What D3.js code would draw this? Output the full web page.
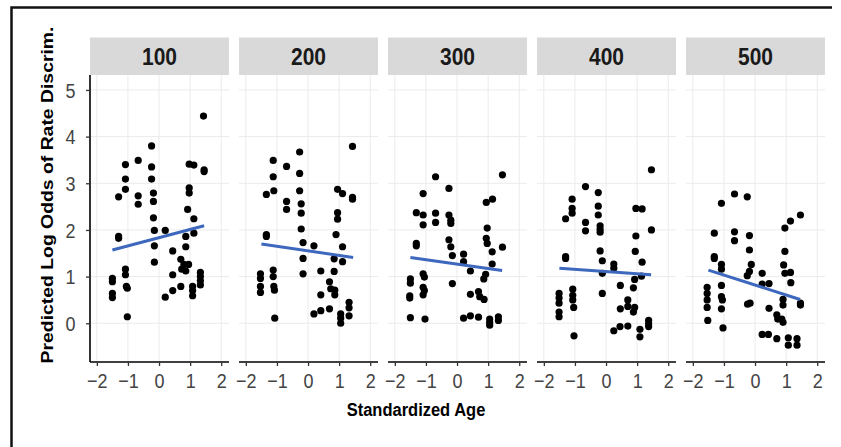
<!DOCTYPE html>
<html>
<head>
<meta charset="utf-8">
<script src="https://cdn.jsdelivr.net/npm/d3@7"></script>
<style>
  body { margin: 0; background: #fff; }
  text { font-family: "Liberation Sans", Arial, sans-serif; }
</style>
</head>
<body>
<svg id="chart"></svg>
<script>
const vWidth = 841
const vHeight = 447

// facet labels
const panelLabels = ['100', '200', '300', '400', '500']

const xTicks = [-2, -1, 0, 1, 2]
const yTicks = [0, 1, 2, 3, 4, 5]

// [standardized age, predicted log odds] per facet
const points100 = [[1.43,4.44],[-0.24,3.8],[-0.67,3.49],[-1.08,3.4],[-0.24,3.35],[0.97,3.41],[1.12,3.39],[1.45,3.29],[1.45,3.25],[-1.08,3.09],[-0.24,3.09],[-1.08,2.87],[0.97,2.9],[0.97,2.79],[-1.3,2.71],[-0.67,2.73],[-0.67,2.55],[-0.18,2.79],[-0.18,2.61],[0.92,2.44],[-0.18,2.26],[1.12,2.24],[-0.15,1.99],[0.2,1.99],[1.12,1.93],[0.86,1.86],[-1.3,1.86],[-1.3,1.82],[-0.15,1.66],[0.86,1.64],[0.44,1.55],[-0.15,1.31],[0.7,1.37],[0.8,1.26],[0.95,1.26],[0.86,1.12],[0.73,1.16],[-1.08,1.16],[-1.08,1.04],[0.44,1.04],[1.33,1.09],[1.33,1.0],[1.33,0.91],[1.33,0.82],[-1.5,0.96],[-1.5,0.89],[-1.5,0.64],[-1.5,0.55],[-1.05,0.79],[-1.02,0.75],[0.44,0.7],[0.7,0.79],[1.08,0.79],[1.08,0.7],[1.08,0.59],[0.2,0.56],[-1.02,0.14]]
const points200 = [[1.43,3.79],[-0.27,3.67],[-1.12,3.49],[-0.69,3.36],[-0.27,3.21],[-1.12,3.14],[0.95,2.87],[1.11,2.78],[-0.27,2.84],[-1.1,2.84],[-1.34,2.76],[1.43,2.7],[1.43,2.66],[-0.69,2.61],[-0.69,2.44],[-0.22,2.56],[-0.22,2.36],[0.95,2.37],[0.95,2.23],[-0.22,2.02],[-1.34,1.9],[-1.34,1.86],[0.9,1.9],[-0.16,1.73],[0.19,1.66],[1.11,1.64],[-0.16,1.39],[0.84,1.38],[1.11,1.32],[0.41,1.12],[0.84,1.11],[-0.16,1.06],[-1.12,1.14],[-1.12,1.0],[-1.53,1.06],[-1.53,0.96],[-1.1,0.79],[-1.08,0.71],[-1.53,0.79],[-1.53,0.66],[0.69,0.89],[0.73,0.74],[0.86,0.71],[0.86,0.61],[0.41,0.61],[1.32,0.45],[1.32,0.33],[1.32,0.16],[0.41,0.27],[0.69,0.31],[0.19,0.2],[1.05,0.2],[1.05,0.11],[1.05,0.0],[-1.07,0.11]]
const points300 = [[1.46,3.18],[-0.69,3.14],[-0.26,2.89],[-1.09,2.78],[-1.31,2.37],[-1.09,2.32],[-0.69,2.36],[-0.26,2.32],[-0.2,2.21],[-0.2,2.14],[-1.09,2.11],[-0.69,2.16],[0.94,2.59],[1.14,2.66],[0.97,2.04],[0.94,1.82],[0.97,1.71],[-1.31,1.71],[-1.31,1.66],[-0.26,1.79],[-0.2,1.64],[-0.15,1.45],[0.21,1.48],[0.21,1.32],[1.46,1.63],[1.13,1.53],[1.13,1.27],[0.43,1.12],[0.92,1.05],[0.86,0.95],[-1.09,1.06],[-1.05,0.99],[-1.5,0.95],[-1.5,0.86],[-1.09,0.77],[-1.05,0.7],[-1.09,0.61],[-1.52,0.59],[-1.52,0.54],[-0.15,0.85],[0.43,0.62],[0.69,0.68],[0.73,0.57],[0.87,0.51],[-1.5,0.12],[-1.03,0.09],[0.21,0.11],[0.43,0.16],[0.69,0.13],[1.05,0.09],[1.05,0.02],[1.05,-0.04],[1.33,0.14],[1.33,0.06]]
const points400 = [[1.46,3.29],[-0.66,2.93],[-0.25,2.8],[-1.09,2.66],[-1.09,2.46],[-1.09,2.36],[-1.3,2.24],[-0.25,2.51],[-0.25,2.32],[-0.66,2.16],[-0.66,1.98],[-0.19,2.09],[-0.19,2.01],[-0.19,1.95],[0.96,2.46],[1.16,2.45],[0.96,1.87],[1.46,2.0],[-1.3,1.43],[-1.3,1.39],[-0.19,1.55],[-0.12,1.34],[0.94,1.54],[1.16,1.31],[0.25,1.27],[0.25,1.18],[-0.12,1.07],[1.14,1.01],[0.92,0.94],[0.88,0.76],[0.46,0.81],[-1.07,0.73],[-1.07,0.6],[-1.07,0.5],[-1.51,0.64],[-1.51,0.54],[-1.51,0.43],[-1.51,0.24],[-1.51,0.14],[-1.04,0.34],[-0.12,0.64],[0.7,0.5],[0.7,0.36],[0.92,0.34],[0.88,0.24],[0.46,0.31],[1.37,0.06],[1.37,-0.07],[1.37,-0.01],[1.09,-0.13],[1.09,-0.29],[0.45,-0.07],[0.7,-0.06],[0.25,-0.16],[-1.03,-0.27]]
const points500 = [[-0.66,2.77],[-0.25,2.71],[-1.08,2.57],[1.46,2.32],[1.14,2.19],[0.96,2.04],[-1.31,1.93],[-0.66,1.96],[-0.66,1.77],[-0.18,1.88],[-0.18,1.57],[0.96,1.54],[-1.31,1.43],[-1.31,1.39],[-1.08,1.26],[-1.08,1.16],[-0.12,1.26],[-0.18,1.11],[-0.25,1.02],[0.92,1.25],[0.96,1.07],[1.14,1.09],[0.23,1.07],[1.15,0.87],[0.23,0.84],[0.45,0.85],[-1.08,0.81],[-1.54,0.77],[-1.54,0.64],[-1.54,0.5],[-1.54,0.34],[-1.08,0.57],[-1.05,0.5],[-1.08,0.31],[-1.52,0.06],[-1.03,-0.1],[-0.24,0.41],[-0.16,0.43],[0.45,0.32],[0.9,0.51],[0.9,0.39],[1.46,0.43],[1.46,0.39],[0.7,0.18],[0.73,0.09],[0.9,0.02],[0.86,0.09],[0.23,-0.24],[0.43,-0.24],[0.7,-0.33],[1.07,-0.31],[1.07,-0.47],[1.35,-0.33],[1.35,-0.47]]

// fitted line: x from/to, y at each end per facet
const fitX = [-1.5, 1.45]
const fitY = [[1.57, 2.09], [1.7, 1.41], [1.41, 1.13], [1.18, 1.04], [1.14, 0.51]]

const panelData = [points100, points200, points300, points400, points500]

const panelLeft = 90
const panelStep = 149
const panelW = 139
const stripTop = 37.5
const panelTop = 75
const panelBottom = 362
const stretch = 1.12 // text in the source looks a little tall

const svg = d3.select('#chart')
  .attr('width', vWidth)
  .attr('height', vHeight)

svg.append('rect')
  .attr('width', vWidth)
  .attr('height', vHeight)
  .attr('fill', '#fff')

// outer frame (top and left edges only show)
svg.append('path')
  .attr('d', 'M11.5,448 V7.5 H832')
  .attr('fill', 'none')
  .attr('stroke', '#111')
  .attr('stroke-width', 2.5)

const x = d3.scaleLinear().domain([-2.22, 2.25]).range([0, panelW])
const y = d3.scaleLinear().domain([-0.83, 5.32]).range([panelBottom, panelTop])

const panels = svg.selectAll('g.panel')
  .data(panelLabels)
  .enter()
  .append('g')
  .attr('class', 'panel')
  .attr('transform', (_, i) => `translate(${panelLeft + i * panelStep},0)`)

// grid
panels.selectAll('line.gx')
  .data(xTicks)
  .enter()
  .append('line')
  .attr('x1', (d) => x(d))
  .attr('x2', (d) => x(d))
  .attr('y1', panelTop)
  .attr('y2', panelBottom)
  .attr('stroke', '#ebebeb')
  .attr('stroke-width', 1)

panels.selectAll('line.gy')
  .data(yTicks)
  .enter()
  .append('line')
  .attr('x1', 0)
  .attr('x2', panelW)
  .attr('y1', (d) => y(d))
  .attr('y2', (d) => y(d))
  .attr('stroke', '#ebebeb')
  .attr('stroke-width', 1)

// strips
panels.append('rect')
  .attr('x', 0)
  .attr('y', stripTop)
  .attr('width', panelW)
  .attr('height', panelTop - stripTop)
  .attr('fill', '#d9d9d9')

panels.append('text')
  .text((d) => d)
  .attr('transform', `translate(${panelW / 2},65) scale(1,${stretch})`)
  .attr('text-anchor', 'middle')
  .style('font-size', '21px')
  .attr('font-weight', 'bold')
  .attr('fill', '#1a1a1a')

// x axis on every panel
panels.append('g')
  .attr('transform', `translate(0,${panelBottom})`)
  .call(d3.axisBottom(x).tickValues(xTicks).tickSize(4).tickFormat(d3.format('d')))
  .call((g) => {
    g.select('.domain').attr('stroke', '#000').attr('stroke-width', 1.6)
      .attr('d', `M0,0H${panelW}`)
    g.selectAll('.tick line').attr('stroke', '#333').attr('stroke-width', 1.3)
    g.selectAll('.tick text')
      .text((d) => d < 0 ? '\u2212' + Math.abs(d) : d)
      .attr('y', null)
      .attr('dy', null)
      .attr('transform', `translate(0,25.5) scale(1,${stretch})`)
      .style('font-size', '18px')
      .style('font-family', '"Liberation Sans", Arial, sans-serif')
      .attr('fill', '#444')
  })

// y axis only on the first panel
svg.append('g')
  .attr('transform', `translate(${panelLeft},0)`)
  .call(d3.axisLeft(y).tickValues(yTicks).tickSize(4).tickFormat(d3.format('d')))
  .call((g) => {
    g.select('.domain').attr('stroke', '#000').attr('stroke-width', 1.6)
      .attr('d', `M0,${panelTop}V${panelBottom}`)
    g.selectAll('.tick line').attr('stroke', '#333').attr('stroke-width', 1.3)
    g.selectAll('.tick text')
      .attr('x', null)
      .attr('dy', null)
      .attr('transform', `translate(-14.5,7.2) scale(1,${stretch})`)
      .style('font-size', '18px')
      .style('font-family', '"Liberation Sans", Arial, sans-serif')
      .attr('fill', '#444')
  })

// points and fitted lines
panels.each(function (_, i) {
  const p = d3.select(this)
  p.selectAll('circle')
    .data(panelData[i])
    .enter()
    .append('circle')
    .attr('cx', (d) => x(d[0]))
    .attr('cy', (d) => y(d[1]))
    .attr('r', 3.6)
    .attr('fill', '#000')

  p.append('line')
    .attr('x1', x(fitX[0]))
    .attr('x2', x(fitX[1]))
    .attr('y1', y(fitY[i][0]))
    .attr('y2', y(fitY[i][1]))
    .attr('stroke', '#3e68bd')
    .attr('stroke-width', 3)
})

// axis titles
svg.append('text')
  .text('Predicted Log Odds of Rate Discrim.')
  .attr('transform', `translate(53,195) rotate(-90) scale(${stretch},1)`)
  .attr('text-anchor', 'middle')
  .style('font-size', '17.3px')
  .attr('font-weight', 'bold')
  .attr('fill', '#000')

svg.append('text')
  .text('Standardized Age')
  .attr('transform', `translate(416,416) scale(1,${stretch})`)
  .attr('text-anchor', 'middle')
  .style('font-size', '16.5px')
  .attr('font-weight', 'bold')
  .attr('fill', '#000')
</script>
</body>
</html>
